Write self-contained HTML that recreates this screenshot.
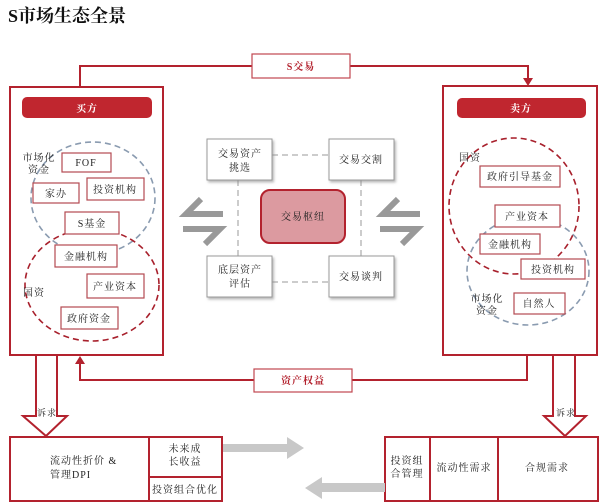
<!DOCTYPE html>
<html><head><meta charset="utf-8"><style>
body{margin:0;background:#fff;}
svg{display:block;}
text{font-family:"Liberation Serif","Noto Serif CJK SC",serif;font-size:10px;fill:#222;letter-spacing:1px;}
</style></head><body>
<svg width="600" height="503" viewBox="0 0 600 503" xmlns="http://www.w3.org/2000/svg">
<defs>
<filter id="sh" x="-20%" y="-20%" width="150%" height="150%"><feDropShadow dx="1.5" dy="2" stdDeviation="1.2" flood-color="#888" flood-opacity="0.6"/></filter>
</defs>
<text x="8" y="22" style="font-size:18px;font-weight:bold;fill:#111;letter-spacing:0">S市场生态全景</text>

<polyline points="80,87 80,66 252,66" fill="none" stroke="#b3222e" stroke-width="2"/>
<polyline points="350,66 528,66 528,80" fill="none" stroke="#b3222e" stroke-width="2"/>
<polygon points="523,78 533,78 528,86" fill="#b3222e"/>
<rect x="252" y="54" width="98" height="24" fill="#fff" stroke="#c0474f" stroke-width="1.2"/>
<text x="301" y="70" text-anchor="middle" style="fill:#b3222e;font-weight:bold">S交易</text>

<rect x="10" y="87" width="153" height="268" fill="#fff" stroke="#b3222e" stroke-width="2"/>
<rect x="22" y="97" width="130" height="21" rx="5" fill="#c0262f"/>
<text x="87" y="112" text-anchor="middle" style="fill:#fff;font-weight:bold">买方</text>
<ellipse cx="93" cy="198" rx="62" ry="56" fill="none" stroke="#8a9bb0" stroke-width="1.6" stroke-dasharray="6,4"/>
<ellipse cx="92" cy="285" rx="67" ry="56" fill="none" stroke="#a8202c" stroke-width="1.6" stroke-dasharray="6,4"/>
<text x="39" y="161" text-anchor="middle">市场化</text>
<text x="39" y="173" text-anchor="middle">资金</text>
<g fill="#fff" stroke="#b34a52" stroke-width="1.2">
<rect x="62" y="153" width="49" height="19"/>
<rect x="33" y="183" width="46" height="20"/>
<rect x="87" y="178" width="57" height="22"/>
<rect x="65" y="212" width="54" height="22"/>
<rect x="55" y="245" width="62" height="22"/>
<rect x="87" y="274" width="57" height="24"/>
<rect x="61" y="307" width="57" height="22"/>
</g>
<text x="86" y="166" text-anchor="middle">FOF</text>
<text x="56" y="197" text-anchor="middle">家办</text>
<text x="115" y="193" text-anchor="middle">投资机构</text>
<text x="92" y="227" text-anchor="middle">S基金</text>
<text x="86" y="260" text-anchor="middle">金融机构</text>
<text x="115" y="290" text-anchor="middle">产业资本</text>
<text x="89" y="322" text-anchor="middle">政府资金</text>
<text x="34" y="296" text-anchor="middle">国资</text>

<rect x="443" y="86" width="154" height="269" fill="#fff" stroke="#b3222e" stroke-width="2"/>
<rect x="457" y="98" width="129" height="20" rx="5" fill="#c0262f"/>
<text x="521" y="112" text-anchor="middle" style="fill:#fff;font-weight:bold">卖方</text>
<ellipse cx="514" cy="206" rx="65" ry="68" fill="none" stroke="#a8202c" stroke-width="1.6" stroke-dasharray="6,4"/>
<ellipse cx="528" cy="271" rx="61" ry="54" fill="none" stroke="#8a9bb0" stroke-width="1.6" stroke-dasharray="6,4"/>
<text x="470" y="161" text-anchor="middle">国资</text>
<text x="487" y="302" text-anchor="middle">市场化</text>
<text x="487" y="314" text-anchor="middle">资金</text>
<g fill="#fff" stroke="#b34a52" stroke-width="1.2">
<rect x="480" y="166" width="80" height="21"/>
<rect x="495" y="205" width="65" height="22"/>
<rect x="480" y="234" width="60" height="20"/>
<rect x="521" y="259" width="64" height="20"/>
<rect x="514" y="293" width="51" height="21"/>
</g>
<text x="520" y="180" text-anchor="middle">政府引导基金</text>
<text x="527" y="220" text-anchor="middle">产业资本</text>
<text x="510" y="248" text-anchor="middle">金融机构</text>
<text x="553" y="273" text-anchor="middle">投资机构</text>
<text x="539" y="307" text-anchor="middle">自然人</text>

<g stroke="#cccccc" stroke-width="2" stroke-dasharray="6,4" fill="none">
<line x1="272" y1="155" x2="329" y2="155"/>
<line x1="272" y1="282" x2="329" y2="282"/>
<line x1="238" y1="180" x2="238" y2="256"/>
<line x1="361" y1="180" x2="361" y2="256"/>
</g>
<g fill="#fff" stroke="#999" stroke-width="1" filter="url(#sh)">
<rect x="207" y="139" width="65" height="41"/>
<rect x="329" y="139" width="65" height="41"/>
<rect x="207" y="256" width="65" height="41"/>
<rect x="329" y="256" width="65" height="41"/>
</g>
<text x="240" y="157" text-anchor="middle">交易资产</text>
<text x="240" y="171" text-anchor="middle">挑选</text>
<text x="361" y="163" text-anchor="middle">交易交割</text>
<text x="240" y="273" text-anchor="middle">底层资产</text>
<text x="240" y="287" text-anchor="middle">评估</text>
<text x="361" y="280" text-anchor="middle">交易谈判</text>
<rect x="261" y="190" width="84" height="53" rx="9" fill="#dc9aa0" stroke="#b3222e" stroke-width="2"/>
<text x="303" y="220" text-anchor="middle">交易枢纽</text>

<g stroke="#999" stroke-width="6" fill="none" stroke-linecap="butt">
<path d="M223,214 H186 L201,199"/><path d="M183,229 H220 L205,244"/>
<path d="M420,214 H383 L398,199"/><path d="M380,229 H417 L402,244"/>
</g>

<polyline points="527,355 527,380 352,380" fill="none" stroke="#b3222e" stroke-width="2"/>
<polyline points="254,380 80,380 80,363" fill="none" stroke="#b3222e" stroke-width="2"/>
<polygon points="75,364 85,364 80,356" fill="#b3222e"/>
<rect x="254" y="369" width="98" height="23" fill="#fff" stroke="#c0474f" stroke-width="1.2"/>
<text x="303" y="384" text-anchor="middle" style="fill:#b3222e;font-weight:bold">资产权益</text>

<polygon points="36,355 57,355 57,416 67,416 46,436 23,416 36,416" fill="#fff" stroke="#b3222e" stroke-width="2"/>
<polygon points="553,355 575,355 575,416 586,416 565,436 544,416 553,416" fill="#fff" stroke="#b3222e" stroke-width="2"/>
<text x="47" y="416" text-anchor="middle" style="font-size:9px">诉求</text>
<text x="566" y="416" text-anchor="middle" style="font-size:9px">诉求</text>

<g fill="#fff" stroke="#b3222e" stroke-width="2">
<rect x="10" y="437" width="212" height="64"/>
<line x1="149" y1="437" x2="149" y2="501"/>
<line x1="149" y1="477" x2="222" y2="477"/>
<rect x="385" y="437" width="213" height="64"/>
<line x1="430" y1="437" x2="430" y2="501"/>
<line x1="498" y1="437" x2="498" y2="501"/>
</g>
<text x="50" y="464">流动性折价 &amp;</text>
<text x="50" y="478">管理DPI</text>
<text x="185" y="452" text-anchor="middle">未来成</text>
<text x="185" y="465" text-anchor="middle">长收益</text>
<text x="185" y="493" text-anchor="middle">投资组合优化</text>
<text x="407" y="464" text-anchor="middle">投资组</text>
<text x="407" y="477" text-anchor="middle">合管理</text>
<text x="464" y="471" text-anchor="middle">流动性需求</text>
<text x="547" y="471" text-anchor="middle">合规需求</text>

<polygon points="223,444 287,444 287,437 304,448 287,459 287,452 223,452" fill="#c8c8c8"/>
<polygon points="385,483 322,483 322,477 305,488 322,499 322,492 385,492" fill="#c8c8c8"/>
</svg>
</body></html>
